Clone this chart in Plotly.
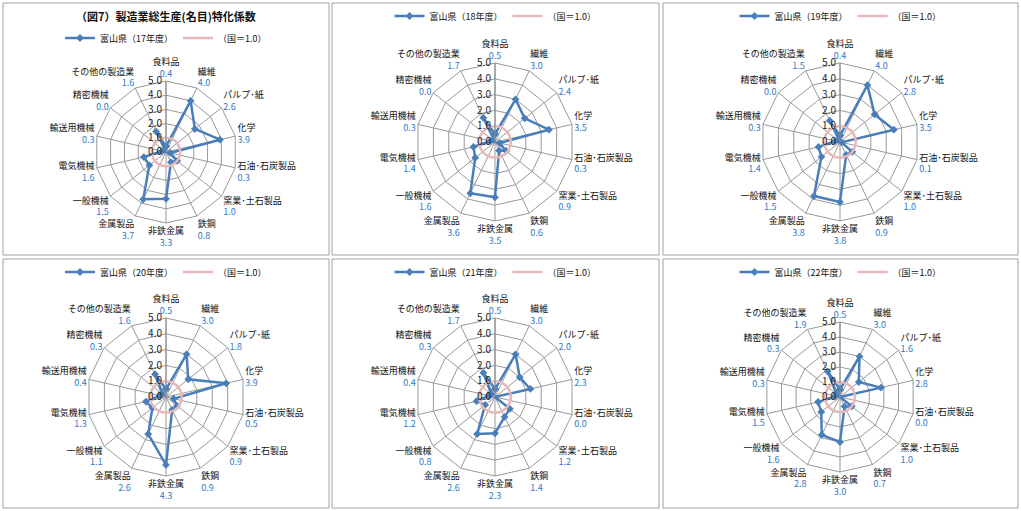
import plotly.graph_objects as go

categories = ["食料品", "繊維", "パルプ･紙", "化学", "石油･石炭製品", "窯業･土石製品", "鉄鋼",
              "非鉄金属", "金属製品", "一般機械", "電気機械", "輸送用機械", "精密機械", "その他の製造業"]
years = ["17", "18", "19", "20", "21", "22"]
v17 = [0.4, 4.0, 2.6, 3.9, 0.3, 1.0, 0.8, 3.3, 3.7, 1.5, 1.6, 0.3, 0.0, 1.6]
v18 = [0.5, 3.0, 2.4, 3.5, 0.3, 0.9, 0.6, 3.5, 3.6, 1.6, 1.4, 0.3, 0.0, 1.7]
v19 = [0.4, 4.0, 2.8, 3.5, 0.1, 1.0, 0.9, 3.8, 3.8, 1.5, 1.4, 0.3, 0.0, 1.5]
v20 = [0.5, 3.0, 1.8, 3.9, 0.5, 0.9, 0.9, 4.3, 2.6, 1.1, 1.3, 0.4, 0.3, 1.6]
v21 = [0.5, 3.0, 2.0, 2.3, 0.0, 1.2, 1.4, 2.3, 2.6, 0.8, 1.2, 0.4, 0.3, 1.7]
v22 = [0.5, 3.0, 1.6, 2.8, 0.0, 1.0, 0.7, 3.0, 2.8, 1.6, 1.5, 0.3, 0.3, 1.9]
national = [1.0] * len(categories)
series = [v17, v18, v19, v20, v21, v22]
title = "（図7）製造業総生産(名目)特化係数"

W, H = 1021, 511
FONT = "Noto Sans CJK JP"
BLUE = "#4a7ebb"
PINK = "#e6b9b8"
NUMC = "#2f78c8"

# panel boxes in px: (x0, y0, x1, y1)
panels = [(3, 3, 329, 255), (332, 3, 659, 255), (663, 3, 1018, 255),
          (3, 259, 329, 508), (332, 259, 659, 508), (663, 259, 1018, 508)]
# polar center and radius in px
centers = [(166, 152, 71), (495, 142, 79), (840, 142, 79),
           (166, 397, 79), (495, 397, 79), (840, 397, 75)]

fig = go.Figure()
shapes = []
for i, (yr, vals) in enumerate(zip(years, series)):
    pid = "polar" if i == 0 else f"polar{i+1}"
    lid = "legend" if i == 0 else f"legend{i+1}"
    cats = categories + [categories[0]]
    fig.add_trace(go.Scatterpolar(
        r=vals + [vals[0]], theta=cats, mode="lines+markers",
        line=dict(color=BLUE, width=2.5), marker=dict(symbol="diamond", size=6, color=BLUE),
        name=f"富山県（{yr}年度）", subplot=pid, legend=lid))
    fig.add_trace(go.Scatterpolar(
        r=national + [national[0]], theta=cats, mode="lines",
        line=dict(color=PINK, width=2.5, shape="spline"),
        name="（国＝1.0）", subplot=pid, legend=lid))
    cx, cy, rad = centers[i]
    dom = dict(x=[(cx - rad) / W, (cx + rad) / W], y=[1 - (cy + rad) / H, 1 - (cy - rad) / H])
    ticktext = [f"{c}<br><span style='color:{NUMC}'>{v:.1f}</span>" for c, v in zip(categories, vals)]
    fig.layout[pid] = dict(
        domain=dom, gridshape="linear", bgcolor="white",
        radialaxis=dict(range=[0, 5], dtick=1, tickformat=".1f", angle=90, tickangle=90,
                        side="counterclockwise",
                        showline=True, linecolor="#888", gridcolor="#999", gridwidth=1,
                        tickfont=dict(size=10, family=FONT, color="#222"), ticks=""),
        angularaxis=dict(direction="clockwise", rotation=90, categoryorder="array",
                         categoryarray=categories, tickvals=categories, ticktext=ticktext,
                         gridcolor="#999", linecolor="#999", ticks="",
                         tickfont=dict(size=9, family=FONT, color="#111")))
    x0, y0, x1, y1 = panels[i]
    shapes.append(dict(type="rect", xref="paper", yref="paper",
                       x0=x0 / W, x1=x1 / W, y0=1 - y1 / H, y1=1 - y0 / H,
                       line=dict(color="#a0a0a0", width=1)))
    ly = 38 if i == 0 else (y0 + 13)
    fig.layout[lid] = dict(orientation="h", x=(x0 + x1) / 2 / W, xanchor="center",
                           y=1 - ly / H, yanchor="middle", bgcolor="rgba(0,0,0,0)",
                           font=dict(size=9, family=FONT, color="#111"), itemwidth=30,
                           tracegroupgap=0)

fig.update_layout(
    width=W, height=H, margin=dict(l=0, r=0, t=0, b=0),
    paper_bgcolor="white", plot_bgcolor="white", shapes=shapes,
    annotations=[dict(text=f"<b>{title}</b>", x=166 / W, y=1 - 16 / H, xref="paper", yref="paper",
                      xanchor="center", yanchor="middle",
                      showarrow=False, font=dict(size=11, family=FONT, color="#111"))],
    font=dict(family=FONT))
fig.write_html("out.html")
